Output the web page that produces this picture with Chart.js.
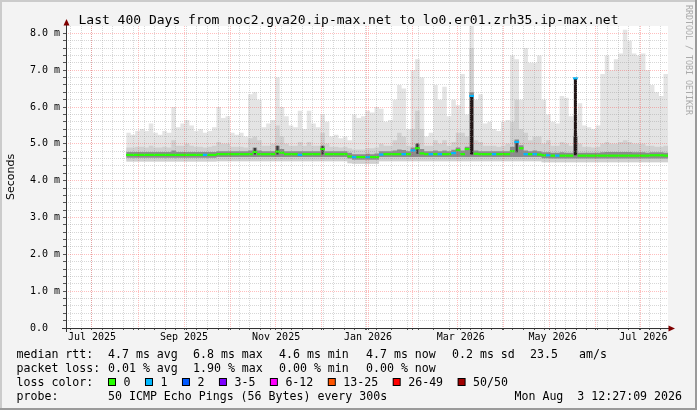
<!DOCTYPE html>
<html>
<head>
<meta charset="utf-8">
<script src="https://cdn.jsdelivr.net/npm/chart.js@4.4.1/dist/chart.umd.min.js"></script>
<style>
  html, body { margin: 0; padding: 0; background: #f3f3f3; }
  canvas { display: block; }
</style>
</head>
<body>
<canvas id="rtt" width="697" height="410"></canvas>
<script>
// time axis: days after 1 Jul 2025, one value per 3-day bucket
const firstDay = 38.5;
const bucketDays = 3;

// upper edge of the light smoke (ms)
const smokeTop = [
  5.30, 5.25, 5.35, 5.40, 5.35, 5.55, 5.30, 5.25, 5.35, 5.30,
  6.00, 5.45, 5.55, 5.65, 5.50, 5.35, 5.40, 5.30, 5.35, 5.45,
  6.00, 5.70, 5.75, 5.30, 5.25, 5.30, 5.20, 6.35, 6.40, 6.20,
  5.45, 5.55, 5.65, 6.80, 6.00, 5.75, 5.50, 5.45, 5.90, 5.40,
  5.90, 5.55, 5.45, 5.80, 5.60, 5.20, 5.25, 5.15, 5.20, 5.10,
  5.80, 5.70, 5.75, 5.90, 5.85, 6.00, 5.95, 5.60, 5.65, 6.20,
  6.60, 6.50, 5.40, 7.00, 7.30, 6.80, 5.20, 5.30, 6.60, 6.20,
  6.55, 5.75, 6.20, 6.05, 6.90, 5.80, 8.20, 6.20, 6.35, 5.55,
  5.60, 5.40, 5.35, 5.60, 5.65, 7.40, 7.30, 6.20, 7.60, 7.20,
  7.20, 7.40, 6.20, 5.80, 5.60, 5.55, 6.30, 6.25, 5.75, 5.80,
  6.10, 5.50, 5.45, 5.40, 5.50, 6.90, 7.40, 7.00, 7.30, 7.45,
  8.10, 7.80, 7.45, 7.40, 7.45, 7.00, 6.60, 6.40, 6.30, 6.90
];

// upper edge of the medium smoke
const smokeMid = [
  4.90, 4.90, 4.92, 4.92, 4.90, 4.95, 4.90, 4.90, 4.92, 4.90,
  5.10, 4.95, 4.95, 5.00, 4.95, 4.92, 4.92, 4.90, 4.92, 4.95,
  5.05, 5.00, 5.00, 4.92, 4.92, 4.92, 4.90, 5.15, 5.20, 5.10,
  4.95, 4.95, 5.00, 5.50, 5.20, 5.00, 4.95, 4.95, 5.05, 4.95,
  5.05, 4.95, 4.95, 5.30, 5.00, 4.92, 4.92, 4.90, 4.92, 4.88,
  4.85, 4.85, 4.85, 4.88, 4.88, 4.90, 5.00, 4.95, 4.95, 5.10,
  5.30, 5.20, 4.95, 5.40, 5.90, 5.40, 4.95, 4.95, 5.10, 5.00,
  5.10, 4.95, 5.05, 5.30, 5.30, 5.20, 7.60, 5.10, 5.05, 4.95,
  4.95, 4.95, 4.92, 4.95, 5.00, 5.60, 6.20, 5.40, 5.30, 5.10,
  5.20, 5.20, 5.00, 5.10, 4.95, 4.95, 5.05, 5.00, 4.95, 5.30,
  5.00, 4.92, 4.92, 4.90, 4.92, 5.00, 5.05, 5.00, 5.00, 5.05,
  5.10, 5.05, 5.00, 5.00, 5.00, 4.95, 4.95, 4.92, 4.92, 4.95
];

// dark band around the median
const smokeDark = [
  4.78, 4.78, 4.78, 4.78, 4.78, 4.78, 4.78, 4.78, 4.78, 4.78,
  4.82, 4.78, 4.78, 4.78, 4.78, 4.78, 4.78, 4.78, 4.78, 4.78,
  4.80, 4.80, 4.80, 4.80, 4.80, 4.80, 4.80, 4.82, 4.90, 4.82,
  4.80, 4.80, 4.80, 4.95, 4.86, 4.80, 4.80, 4.80, 4.80, 4.80,
  4.80, 4.80, 4.80, 4.95, 4.80, 4.80, 4.80, 4.80, 4.80, 4.76,
  4.72, 4.72, 4.72, 4.73, 4.72, 4.74, 4.80, 4.80, 4.80, 4.82,
  4.85, 4.83, 4.80, 4.90, 5.00, 4.86, 4.80, 4.80, 4.82, 4.80,
  4.82, 4.80, 4.84, 4.90, 4.82, 4.92, 6.40, 4.82, 4.80, 4.80,
  4.80, 4.80, 4.80, 4.80, 4.80, 4.92, 5.12, 4.96, 4.82, 4.80,
  4.82, 4.80, 4.77, 4.77, 4.76, 4.76, 4.77, 4.76, 4.76, 5.20,
  4.76, 4.76, 4.76, 4.76, 4.76, 4.77, 4.78, 4.78, 4.78, 4.78,
  4.78, 4.78, 4.77, 4.77, 4.77, 4.76, 4.77, 4.77, 4.77, 4.76
];

const darkLow = [
  4.62, 4.62, 4.62, 4.62, 4.62, 4.62, 4.62, 4.62, 4.62, 4.62,
  4.62, 4.62, 4.62, 4.62, 4.62, 4.62, 4.62, 4.62, 4.62, 4.62,
  4.64, 4.64, 4.64, 4.64, 4.64, 4.64, 4.64, 4.64, 4.64, 4.64,
  4.64, 4.64, 4.64, 4.64, 4.64, 4.64, 4.64, 4.64, 4.64, 4.64,
  4.64, 4.64, 4.64, 4.64, 4.64, 4.64, 4.64, 4.64, 4.64, 4.60,
  4.57, 4.57, 4.57, 4.57, 4.57, 4.57, 4.64, 4.64, 4.64, 4.64,
  4.64, 4.64, 4.64, 4.64, 4.64, 4.64, 4.64, 4.64, 4.64, 4.64,
  4.64, 4.64, 4.64, 4.64, 4.64, 4.64, 4.64, 4.64, 4.64, 4.64,
  4.64, 4.64, 4.64, 4.64, 4.64, 4.64, 4.64, 4.64, 4.64, 4.64,
  4.64, 4.64, 4.61, 4.61, 4.60, 4.60, 4.60, 4.60, 4.60, 4.60,
  4.60, 4.60, 4.60, 4.60, 4.60, 4.60, 4.60, 4.60, 4.60, 4.60,
  4.60, 4.60, 4.60, 4.60, 4.60, 4.60, 4.60, 4.60, 4.60, 4.60
];

// lower edge of the smoke
const smokeLow = [
  4.52, 4.52, 4.52, 4.52, 4.52, 4.52, 4.52, 4.52, 4.52, 4.52,
  4.52, 4.52, 4.52, 4.52, 4.52, 4.52, 4.52, 4.52, 4.52, 4.52,
  4.53, 4.53, 4.53, 4.53, 4.53, 4.53, 4.53, 4.53, 4.53, 4.53,
  4.53, 4.53, 4.53, 4.53, 4.53, 4.53, 4.53, 4.53, 4.53, 4.53,
  4.53, 4.53, 4.53, 4.53, 4.53, 4.53, 4.53, 4.53, 4.53, 4.47,
  4.46, 4.46, 4.46, 4.46, 4.46, 4.46, 4.53, 4.53, 4.53, 4.53,
  4.53, 4.53, 4.53, 4.53, 4.53, 4.53, 4.53, 4.53, 4.53, 4.53,
  4.53, 4.53, 4.53, 4.53, 4.53, 4.53, 4.53, 4.53, 4.53, 4.53,
  4.53, 4.53, 4.53, 4.53, 4.53, 4.53, 4.53, 4.53, 4.53, 4.53,
  4.53, 4.53, 4.50, 4.50, 4.50, 4.50, 4.50, 4.50, 4.50, 4.50,
  4.50, 4.50, 4.50, 4.50, 4.50, 4.50, 4.50, 4.50, 4.50, 4.50,
  4.50, 4.50, 4.50, 4.50, 4.50, 4.50, 4.50, 4.50, 4.50, 4.50
];

// median rtt (ms)
const median = [
  4.70, 4.70, 4.70, 4.70, 4.70, 4.70, 4.70, 4.70, 4.70, 4.70,
  4.70, 4.70, 4.70, 4.70, 4.70, 4.70, 4.70, 4.70, 4.70, 4.70,
  4.72, 4.72, 4.72, 4.72, 4.72, 4.72, 4.72, 4.72, 4.78, 4.72,
  4.72, 4.72, 4.72, 4.79, 4.76, 4.72, 4.72, 4.72, 4.70, 4.72,
  4.72, 4.72, 4.72, 4.86, 4.72, 4.72, 4.72, 4.72, 4.72, 4.66,
  4.64, 4.64, 4.64, 4.64, 4.64, 4.64, 4.71, 4.72, 4.72, 4.72,
  4.72, 4.72, 4.72, 4.82, 4.88, 4.74, 4.72, 4.72, 4.72, 4.72,
  4.72, 4.72, 4.75, 4.83, 4.72, 4.86, 6.30, 4.73, 4.72, 4.72,
  4.72, 4.72, 4.72, 4.72, 4.72, 4.80, 5.05, 4.88, 4.72, 4.72,
  4.72, 4.71, 4.69, 4.69, 4.68, 4.68, 4.68, 4.68, 4.68, 6.78,
  4.68, 4.68, 4.68, 4.68, 4.68, 4.68, 4.68, 4.68, 4.68, 4.68,
  4.68, 4.68, 4.68, 4.68, 4.68, 4.68, 4.69, 4.69, 4.69, 4.68
];

// loss class per bucket (index into lossColors)
const loss = [
  0, 0, 0, 0, 0, 0, 0, 0, 0, 0,
  0, 0, 0, 0, 0, 0, 0, 1, 0, 0,
  0, 0, 0, 0, 0, 0, 0, 0, 0, 0,
  0, 0, 0, 0, 0, 0, 0, 0, 1, 0,
  0, 0, 0, 0, 0, 0, 0, 0, 0, 0,
  1, 0, 0, 1, 0, 0, 1, 0, 0, 0,
  0, 1, 0, 1, 0, 0, 0, 1, 0, 1,
  0, 0, 1, 0, 0, 0, 1, 0, 0, 0,
  0, 1, 0, 0, 0, 0, 1, 0, 1, 0,
  1, 0, 0, 1, 0, 1, 0, 0, 0, 1,
  0, 0, 0, 0, 0, 0, 0, 0, 0, 0,
  0, 0, 0, 0, 0, 0, 0, 0, 0, 0
];

// tall dark spikes: [bucket, low, high]
const spikes = [
  [76, 4.72, 6.30], [99, 4.70, 6.78]
];
// short dark marks: [bucket, low, high]
const blips = [
  [28, 4.72, 4.88], [33, 4.72, 4.94], [43, 4.72, 4.94], [64, 4.74, 5.00], [86, 4.78, 5.06]
];

const lossColors = ['#26ff00', '#00b8ff', '#0059ff', '#7e00ff', '#ff00ff', '#ff5500', '#ff0000', '#a00000'];
const lossLabels = ['0', '1', '2', '3-5', '6-12', '13-25', '26-49', '50/50'];

const monthStarts = [0, 31, 62, 92, 123, 153, 184, 215, 243, 274, 304, 335, 365, 396];
const firstSunday = 5;
const tickLabelDays = [15.8, 76.9, 138.1, 199.2, 260.8, 321.8, 382.1];
const tickLabels = ['Jul 2025', 'Sep 2025', 'Nov 2025', 'Jan 2026', 'Mar 2026', 'May 2026', 'Jul 2026'];
const yStep = 0.2;
const yTop = 8.0;

const title = 'Last 400 Days from noc2.gva20.ip-max.net to lo0.er01.zrh35.ip-max.net';
const rttStats = ['4.7 ms avg', '6.8 ms max', '4.6 ms min', '4.7 ms now', '0.2 ms sd', '23.5', 'am/s'];
const lossStats = ['0.01 % avg', '1.90 % max', '0.00 % min', '0.00 % now'];
const probeText = '50 ICMP Echo Pings (56 Bytes) every 300s';
const stampText = 'Mon Aug  3 12:27:09 2026';

const MONO = '"DejaVu Sans Mono", monospace';
const minorGrid = 'rgba(150,150,150,0.38)';
const majorGrid = 'rgba(255,40,40,0.3)';
const clear = 'rgba(0,0,0,0)';

// stepped series: a point at every bucket start, plus one closing the last step
function stepPoints(values) {
  const pts = values.map((v, i) => ({ x: firstDay + i * bucketDays, y: v }));
  pts.push({ x: firstDay + values.length * bucketDays, y: values[values.length - 1] });
  return pts;
}
const barPoints = list => list.map(s => ({ x: firstDay + (s[0] + 0.5) * bucketDays, y: [s[1], s[2]] }));

const medianPoints = median.map((v, i) => ({ x: firstDay + (i + 0.5) * bucketDays, y: v }));

const weekTicks = [];
for (let d = firstSunday; d < 398.5; d += 7) {
  if (!monthStarts.includes(d)) weekTicks.push(d);
}
const labelMap = new Map(tickLabelDays.map((d, i) => [d, tickLabels[i]]));
const xTicks = weekTicks.concat(monthStarts, tickLabelDays);

const yTicks = [];
for (let k = 0; k * yStep <= yTop + 1e-9; k++) yTicks.push(Math.round(k * yStep * 10) / 10);
const isMajorY = v => Math.abs(v - Math.round(v)) < 1e-6;

function xGridColor(c) {
  if (!c.tick) return minorGrid;
  if (labelMap.has(c.tick.value)) return clear;
  return monthStarts.includes(c.tick.value) ? majorGrid : minorGrid;
}
function xTickColor(c) {
  return c.tick && labelMap.has(c.tick.value) ? clear : '#555555';
}
function yGridColor(c) {
  if (!c.tick) return minorGrid;
  return isMajorY(c.tick.value) ? majorGrid : minorGrid;
}

function hidden(data, order) {
  return { data: data, order: order, borderColor: clear, borderWidth: 0,
           pointRadius: 0, fill: false, stepped: true };
}
function smoke(data, target, color, order) {
  return { data: data, order: order, borderColor: clear, borderWidth: 0,
           pointRadius: 0, fill: target, backgroundColor: color, stepped: true };
}

const rrdFrame = {
  id: 'rrdFrame',
  beforeDraw(chart) {
    const { ctx, chartArea: a } = chart;
    ctx.save();
    ctx.fillStyle = '#f3f3f3';
    ctx.fillRect(0, 0, 697, 410);
    ctx.fillStyle = '#cbcbcb';
    ctx.fillRect(0, 0, 697, 2);
    ctx.fillRect(0, 0, 2, 410);
    ctx.fillStyle = '#9a9a9a';
    ctx.fillRect(0, 408, 697, 2);
    ctx.fillRect(695, 0, 2, 410);
    ctx.fillStyle = '#ffffff';
    ctx.fillRect(a.left, a.top, a.right - a.left, a.bottom - a.top);
    ctx.restore();
  },
  afterDraw(chart) {
    const { ctx, chartArea: a } = chart;
    ctx.save();

    // axes with arrows
    ctx.strokeStyle = '#333333';
    ctx.lineWidth = 1;
    ctx.setLineDash([]);
    ctx.beginPath();
    ctx.moveTo(a.left + 0.5, a.bottom + 4);
    ctx.lineTo(a.left + 0.5, 22);
    ctx.moveTo(a.left - 4, a.bottom + 0.5);
    ctx.lineTo(a.right + 2, a.bottom + 0.5);
    ctx.stroke();
    ctx.fillStyle = '#7f0000';
    ctx.beginPath();
    ctx.moveTo(a.left + 0.5, 19);
    ctx.lineTo(a.left - 2.5, 25.5);
    ctx.lineTo(a.left + 3.5, 25.5);
    ctx.closePath();
    ctx.fill();
    ctx.beginPath();
    ctx.moveTo(a.right + 7, a.bottom + 0.5);
    ctx.lineTo(a.right + 0.5, a.bottom - 2.5);
    ctx.lineTo(a.right + 0.5, a.bottom + 3.5);
    ctx.closePath();
    ctx.fill();

    // title
    ctx.fillStyle = '#000000';
    ctx.font = '13px ' + MONO;
    ctx.textAlign = 'center';
    ctx.textBaseline = 'alphabetic';
    ctx.fillText(title, 348.5, 23.5);

    // y axis title
    ctx.save();
    ctx.translate(11, 177);
    ctx.rotate(-Math.PI / 2);
    ctx.font = '11px "DejaVu Sans", sans-serif';
    ctx.textBaseline = 'middle';
    ctx.fillText('Seconds', 0, 0);
    ctx.restore();

    // watermark
    ctx.save();
    ctx.translate(688, 60);
    ctx.rotate(Math.PI / 2);
    ctx.font = '8.3px ' + MONO;
    ctx.fillStyle = '#aaaaaa';
    ctx.textBaseline = 'middle';
    ctx.fillText('RRDTOOL / TOBI OETIKER', 0, 0);
    ctx.restore();

    // legend
    ctx.font = '11.6px ' + MONO;
    ctx.textAlign = 'left';
    ctx.textBaseline = 'alphabetic';
    const rows = [358, 372, 386, 400];
    ctx.fillText('median rtt:', 16.5, rows[0]);
    ctx.fillText('packet loss:', 16.5, rows[1]);
    ctx.fillText('loss color:', 16.5, rows[2]);
    ctx.fillText('probe:', 16.5, rows[3]);

    const statX = [108, 193, 279, 366, 452, 530, 579];
    rttStats.forEach((t, i) => ctx.fillText(t, statX[i], rows[0]));
    lossStats.forEach((t, i) => ctx.fillText(t, statX[i], rows[1]));

    let bx = 108;
    lossLabels.forEach((lab, i) => {
      ctx.fillStyle = '#000000';
      ctx.fillRect(bx, 378, 8, 8);
      ctx.fillStyle = lossColors[i];
      ctx.fillRect(bx + 1, 379, 6, 6);
      ctx.fillStyle = '#000000';
      ctx.fillText(lab, bx + 15.5, rows[2]);
      bx += 15.5 + ctx.measureText(lab).width + 14.5;
    });

    ctx.fillText(probeText, 108, rows[3]);
    ctx.textAlign = 'right';
    ctx.fillText(stampText, 682, rows[3]);
    ctx.restore();
  }
};

new Chart(document.getElementById('rtt'), {
  type: 'line',
  data: {
    datasets: [
      hidden(stepPoints(smokeLow), 9),
      smoke(stepPoints(smokeTop), 0, '#e4e4e4', 8),
      smoke(stepPoints(smokeMid), 0, '#d0d0d0', 7),
      hidden(stepPoints(darkLow), 9),
      smoke(stepPoints(smokeDark), 3, '#8c8c8c', 6),
      {
        type: 'bar', data: barPoints(spikes), order: 3, grouped: false,
        backgroundColor: '#221616', borderWidth: 0, barThickness: 2.5
      },
      {
        type: 'bar', data: barPoints(blips), order: 3, grouped: false,
        backgroundColor: '#3a3a3a', borderWidth: 0, barThickness: 1.5
      },
      {
        data: medianPoints, order: 1, showLine: false,
        pointStyle: 'line', pointRadius: 2.4, pointBorderWidth: 2.2,
        pointBorderColor: c => lossColors[loss[c.dataIndex]],
        pointBackgroundColor: c => lossColors[loss[c.dataIndex]]
      }
    ]
  },
  options: {
    responsive: false,
    animation: false,
    devicePixelRatio: 1,
    events: [],
    layout: { padding: { left: 0, right: 29, top: 26, bottom: 62 } },
    plugins: { legend: { display: false }, tooltip: { enabled: false } },
    scales: {
      x: {
        type: 'linear', min: -1.5, max: 398.5, offset: false,
        afterBuildTicks: s => { s.ticks = xTicks.map(v => ({ value: v })); },
        afterFit: s => { s.height = 20; },
        grid: { z: 1, lineWidth: 1, tickLength: 2, color: xGridColor, tickColor: xTickColor },
        border: { display: false, dash: [1, 1] },
        ticks: {
          autoSkip: false, maxRotation: 0, minRotation: 0, padding: 1,
          color: '#000000', font: { family: MONO, size: 10 },
          callback: v => labelMap.get(v) || ''
        }
      },
      y: {
        min: 0, max: 8.2,
        afterBuildTicks: s => { s.ticks = yTicks.map(v => ({ value: v })); },
        afterFit: s => { s.width = 66; },
        grid: { z: 1, lineWidth: 1, tickLength: 3, tickColor: '#555555', color: yGridColor },
        border: { display: false, dash: [1, 1] },
        ticks: {
          autoSkip: false, padding: 3, color: '#000000', font: { family: MONO, size: 10 },
          callback: v => isMajorY(v) ? v.toFixed(1) + (v === 0 ? '  ' : ' m') : ''
        }
      }
    }
  },
  plugins: [rrdFrame]
});
</script>
</body>
</html>
